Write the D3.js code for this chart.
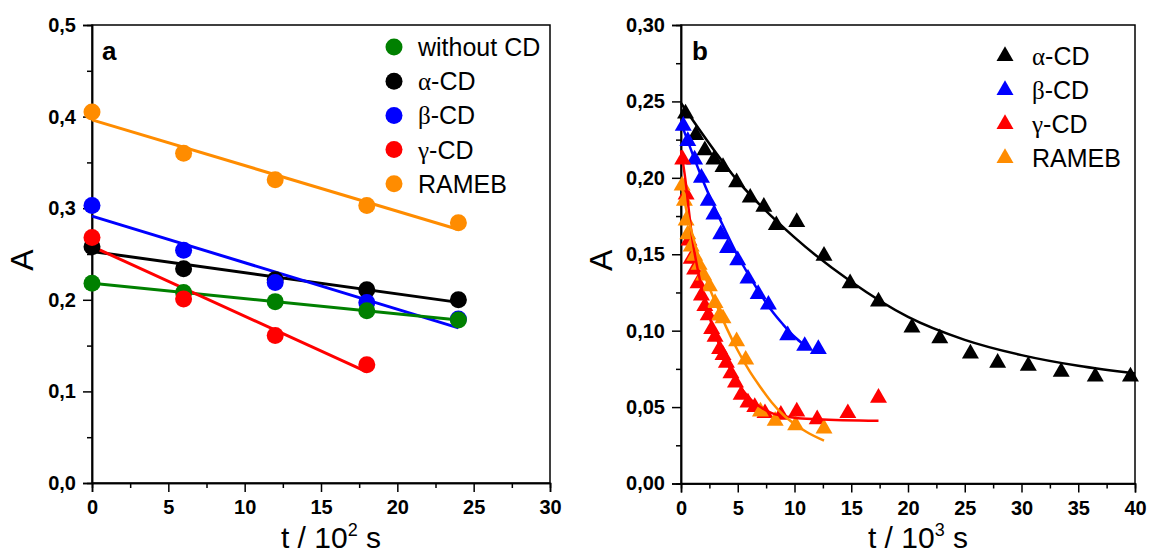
<!DOCTYPE html>
<html lang="en">
<head>
    <meta charset="UTF-8">
    <title>Absorbance decay</title>
    <script src="https://d3js.org/d3.v7.min.js"></script>
    <style>
        body { margin: 0; background: #fff; }
        svg { display: block; font-family: Arial, "Liberation Sans", sans-serif; }
        .tick text { font-size: 20px; font-weight: bold; fill: #000; }
        .domain, .tick line { stroke: #000; stroke-width: 1.5px; }
        .frame { fill: none; stroke: #000; stroke-width: 1.5px; }
        .axis-title { font-size: 30px; fill: #000; }
        .legend text { font-size: 25px; fill: #000; }
        .panel-label { font-size: 26px; font-weight: bold; }
    </style>
</head>
<body>
    <svg id="chart" width="1149" height="553"></svg>

    <script>
        // panel a: t / 10^2 s
        const tA = [0, 6, 12, 18, 24];
        const tGammaA = [0, 6, 12, 18];
        const aWithout = [0.218, 0.208, 0.198, 0.188, 0.178];
        const aAlpha = [0.258, 0.234, 0.222, 0.211, 0.200];
        const aBeta = [0.303, 0.254, 0.219, 0.197, 0.179];
        const aGamma = [0.268, 0.201, 0.161, 0.129];
        const aRameb = [0.405, 0.360, 0.331, 0.303, 0.284];

        // panel b: t / 10^3 s
        const tAlphaB = [0.4, 1.3, 2.1, 2.9, 3.7, 4.9, 6.1, 7.3, 8.4, 10.2, 12.6, 14.9, 17.4, 20.35, 22.8, 25.5, 27.9, 30.6, 33.5, 36.5, 39.6];
        const bAlpha = [0.242, 0.228, 0.218, 0.212, 0.207, 0.197, 0.187, 0.181, 0.169, 0.171, 0.149, 0.131, 0.119, 0.102, 0.095, 0.085, 0.079, 0.077, 0.073, 0.070, 0.070];
        const tBetaB = [0.2, 0.6, 1.2, 1.8, 2.4, 2.9, 3.5, 4.1, 5.0, 5.9, 6.8, 7.7, 9.4, 10.9, 12.1];
        const bBeta = [0.234, 0.224, 0.212, 0.200, 0.185, 0.176, 0.163, 0.154, 0.146, 0.134, 0.124, 0.117, 0.097, 0.090, 0.088];
        const tGammaB = [0.15, 0.45, 0.7, 0.9, 1.2, 1.5, 1.8, 2.1, 2.4, 2.7, 3.0, 3.4, 3.7, 4.0, 4.4, 4.8, 5.3, 5.9, 6.5, 7.4, 8.8, 10.2, 12.0, 14.7, 17.4];
        const bGamma = [0.212, 0.189, 0.159, 0.147, 0.140, 0.131, 0.123, 0.116, 0.110, 0.101, 0.096, 0.088, 0.084, 0.079, 0.072, 0.066, 0.058, 0.053, 0.050, 0.046, 0.045, 0.047, 0.042, 0.046, 0.056];
        const tRamebB = [0.1, 0.3, 0.45, 0.6, 0.9, 1.2, 1.6, 2.0, 2.5, 3.0, 3.4, 3.7, 4.9, 5.7, 7.0, 8.3, 10.1, 12.6];
        const bRameb = [0.195, 0.185, 0.172, 0.163, 0.155, 0.149, 0.143, 0.136, 0.129, 0.118, 0.110, 0.108, 0.093, 0.081, 0.047, 0.041, 0.038, 0.036];

        // fitted curves of panel b
        const fitAlphaT = [0, 5, 10, 15, 20, 25, 30, 35, 40];
        const fitAlpha = [0.249, 0.198, 0.161, 0.132, 0.109, 0.094, 0.084, 0.077, 0.072];
        const fitBetaT = [0, 1, 2, 3, 4, 5, 6, 7, 8, 9, 10, 10.8];
        const fitBeta = [0.236, 0.216, 0.197, 0.180, 0.164, 0.149, 0.136, 0.124, 0.113, 0.104, 0.096, 0.091];
        const fitGammaT = [0, 0.4, 0.7, 1, 1.5, 2, 3, 4, 5, 6, 7, 8, 10, 12, 17.4];
        const fitGamma = [0.218, 0.198, 0.178, 0.160, 0.139, 0.122, 0.098, 0.080, 0.066, 0.056, 0.050, 0.046, 0.043, 0.042, 0.041];
        const fitRamebT = [0, 0.5, 1, 2, 3, 4, 5, 6, 7, 8, 9, 10, 11, 12.6];
        const fitRameb = [0.197, 0.178, 0.163, 0.138, 0.119, 0.102, 0.087, 0.074, 0.063, 0.053, 0.045, 0.039, 0.034, 0.028];

        const green = "#008000", blue = "#0000ff", red = "#ff0000", orange = "#ff8c00";

        const svg = d3.select("#chart");
        const comma = f => d => d3.format(f)(d).replace(".", ",");
        const zip = (xs, ys) => xs.map((x, i) => [x, ys[i]]);

        function linFit(xs, ys) {
            const mx = d3.mean(xs), my = d3.mean(ys);
            const slope = d3.sum(xs, (x, i) => (x - mx) * (ys[i] - my)) / d3.sum(xs, x => (x - mx) * (x - mx));
            const b = my - slope * mx;
            const x0 = d3.min(xs), x1 = d3.max(xs);
            return [[x0, b + slope * x0], [x1, b + slope * x1]];
        }

        function drawFrame(x, y, yFmt, xMinor, yMinor) {
            const [x0, x1] = x.range(), [y0, y1] = y.range();
            svg.append("g").attr("transform", `translate(0,${y0})`)
                .call(d3.axisBottom(x).tickValues(xMinor).tickSize(5).tickFormat(""));
            svg.append("g").attr("transform", `translate(${x0},0)`)
                .call(d3.axisLeft(y).tickValues(yMinor).tickSize(5).tickFormat(""));
            svg.append("g").attr("transform", `translate(0,${y0})`)
                .call(d3.axisBottom(x).ticks(x.domain()[1] / 5).tickSize(9).tickPadding(7))
                .call(g => g.selectAll(".tick text").attr("dy", "0.75em"));
            svg.append("g").attr("transform", `translate(${x0},0)`)
                .call(d3.axisLeft(y).tickValues(d3.range(0, y.domain()[1] + 1e-9, yFmt.step)).tickSize(9).tickPadding(7).tickFormat(comma(yFmt.f)));
            svg.append("rect").attr("class", "frame")
                .attr("x", x0).attr("y", y1).attr("width", x1 - x0).attr("height", y0 - y1);
        }

        function axisTitles(x, y, titleX, exp) {
            const [x0, x1] = x.range(), [y0, y1] = y.range();
            svg.append("text").attr("class", "axis-title").style("font-size", "32px")
                .attr("transform", `translate(${titleX},${(y0 + y1) / 2 + 6}) rotate(-90)`)
                .attr("text-anchor", "middle").attr("dy", "0.35em").text("A");
            const t = svg.append("text").attr("class", "axis-title")
                .attr("x", (x0 + x1) / 2 + 10).attr("y", 548).attr("text-anchor", "middle");
            t.append("tspan").text("t / 10");
            t.append("tspan").attr("dy", -12).style("font-size", "18px").text(exp);
            t.append("tspan").attr("dy", 12).text(" s");
        }

        function legendLabel(sel, name) {
            const greek = name.match(/^([αβγ])(.*)$/);
            if (greek) {
                sel.append("tspan").style("font-family", "'Liberation Serif', 'DejaVu Serif', serif").text(greek[1]);
                sel.append("tspan").text(greek[2]);
            } else {
                sel.text(name);
            }
        }

        // ---------- panel a ----------
        const xa = d3.scaleLinear().domain([0, 30]).range([92, 550]);
        const ya = d3.scaleLinear().domain([0, 0.5]).range([483, 25]);
        drawFrame(xa, ya, { f: ".1f", step: 0.1 }, d3.range(2.5, 30, 5), d3.range(0.05, 0.5, 0.1));
        axisTitles(xa, ya, 22, "2");

        const seriesA = [
            { name: "without CD", t: tA, v: aWithout, color: green },
            { name: "α-CD", t: tA, v: aAlpha, color: "#000" },
            { name: "β-CD", t: tA, v: aBeta, color: blue },
            { name: "γ-CD", t: tGammaA, v: aGamma, color: red },
            { name: "RAMEB", t: tA, v: aRameb, color: orange }
        ];
        const lineA = d3.line().x(d => xa(d[0])).y(d => ya(d[1]));
        const drawOrderA = [1, 2, 0, 3, 4].map(i => seriesA[i]);

        svg.append("g").selectAll("path").data(drawOrderA).join("path")
            .attr("d", s => lineA(linFit(s.t, s.v)))
            .attr("fill", "none").attr("stroke", s => s.color).attr("stroke-width", 3);
        drawOrderA.forEach(s => {
            svg.append("g").selectAll("circle").data(zip(s.t, s.v)).join("circle")
                .attr("cx", d => xa(d[0])).attr("cy", d => ya(d[1])).attr("r", 8.5)
                .attr("fill", s.color);
        });

        const legA = svg.append("g").attr("class", "legend");
        seriesA.forEach((s, i) => {
            const yy = 47 + i * 34.2;
            legA.append("circle").attr("cx", 394).attr("cy", yy).attr("r", 8.5).attr("fill", s.color);
            legendLabel(legA.append("text").attr("x", 418).attr("y", yy).attr("dy", "0.36em"), s.name);
        });
        svg.append("text").attr("class", "panel-label").attr("x", 102).attr("y", 60).text("a");

        // ---------- panel b ----------
        const xb = d3.scaleLinear().domain([0, 40]).range([681, 1135]);
        const yb = d3.scaleLinear().domain([0, 0.3]).range([483.5, 25]);
        drawFrame(xb, yb, { f: ".2f", step: 0.05 }, d3.range(2.5, 40, 5), d3.range(0.025, 0.3, 0.05));
        axisTitles(xb, yb, 601, "3");

        const seriesB = [
            { name: "α-CD", t: tAlphaB, v: bAlpha, ft: fitAlphaT, fv: fitAlpha, color: "#000" },
            { name: "β-CD", t: tBetaB, v: bBeta, ft: fitBetaT, fv: fitBeta, color: blue },
            { name: "γ-CD", t: tGammaB, v: bGamma, ft: fitGammaT, fv: fitGamma, color: red },
            { name: "RAMEB", t: tRamebB, v: bRameb, ft: fitRamebT, fv: fitRameb, color: orange }
        ];
        const tri = d3.symbol().type(d3.symbolTriangle).size(125);
        const lineB = d3.line().x(d => xb(d[0])).y(d => yb(d[1])).curve(d3.curveMonotoneX);

        seriesB.forEach(s => {
            svg.append("g").selectAll("path").data(zip(s.t, s.v)).join("path")
                .attr("d", tri)
                .attr("transform", d => `translate(${xb(d[0])},${yb(d[1])})`)
                .attr("fill", s.color);
        });
        svg.append("g").selectAll("path").data(seriesB).join("path")
            .attr("d", s => lineB(zip(s.ft, s.fv)))
            .attr("fill", "none").attr("stroke", s => s.color).attr("stroke-width", 2.5);

        const legB = svg.append("g").attr("class", "legend");
        seriesB.forEach((s, i) => {
            const yy = 56 + i * 34;
            legB.append("path").attr("d", tri).attr("transform", `translate(1005,${yy})`).attr("fill", s.color);
            legendLabel(legB.append("text").attr("x", 1032).attr("y", yy).attr("dy", "0.36em"), s.name);
        });
        svg.append("text").attr("class", "panel-label").attr("x", 692).attr("y", 60).text("b");
    </script>
</body>
</html>
